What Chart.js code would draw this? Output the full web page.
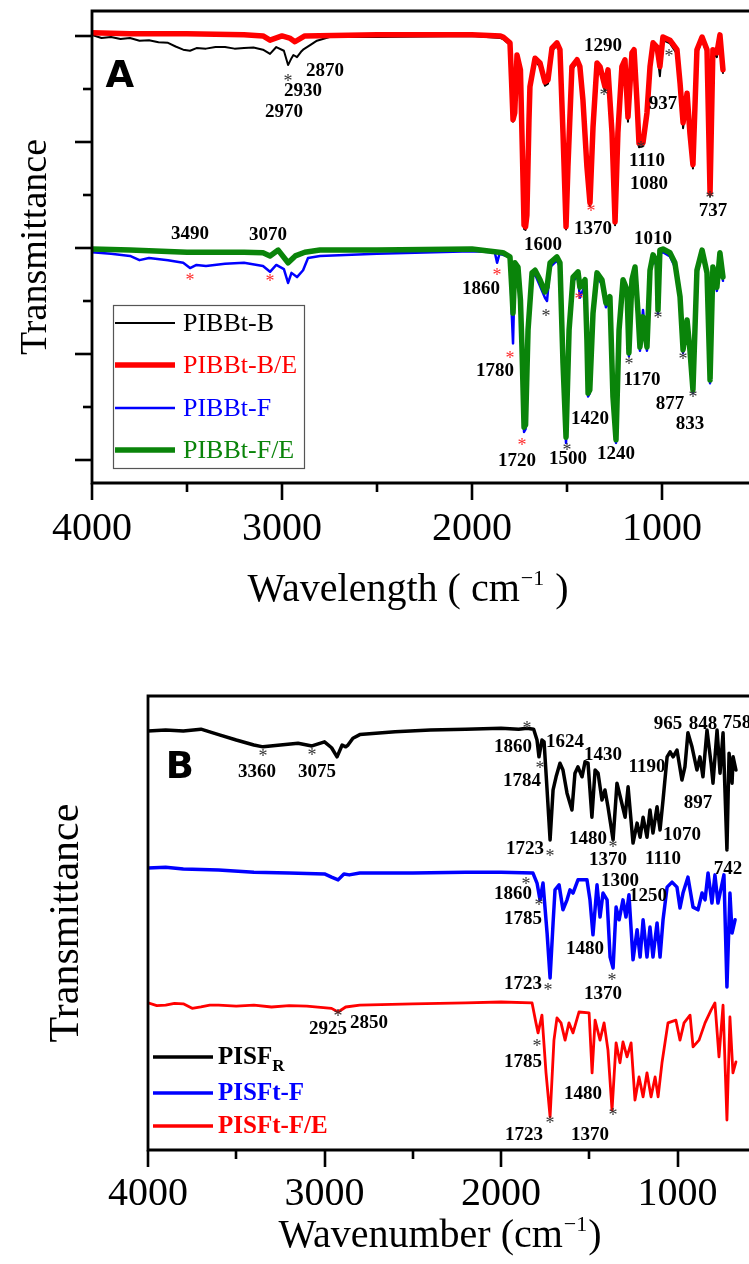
<!DOCTYPE html>
<html><head><meta charset="utf-8">
<script src="https://cdn.jsdelivr.net/npm/chart.js@4.4.1/dist/chart.umd.min.js"></script>
<style>
html,body{margin:0;padding:0;background:#fff;overflow:hidden;width:749px;height:1264px;}
#wa{position:absolute;left:0;top:0;width:749px;height:620px;}
#wb{position:absolute;left:0;top:620px;width:749px;height:644px;}
</style></head><body>
<div id="wa"><canvas id="ca"></canvas></div>
<div id="wb"><canvas id="cb"></canvas></div>
<script>
// ---------------- DATA (wavenumber cm-1, offset transmittance) ----------------
// Panel A
const pibbtB = [[4000,80.2],[3950,79.6],[3900,79.8],[3850,79.4],[3800,79.6],[3750,79.1],[3700,79.2],[3650,78.8],[3600,78.7],[3560,78.0],[3520,77.4],[3484,77.2],[3450,77.7],[3400,77.6],[3350,77.9],[3300,77.9],[3250,77.6],[3200,77.7],[3150,77.8],[3100,77.4],[3063,76.6],[3030,77.9],[2990,77.2],[2968,74.5],[2950,75.8],[2940,76.4],[2921,76.0],[2900,77.0],[2889,77.4],[2850,78.3],[2816,79.1],[2750,79.8],[2500,79.8],[2000,80.0],[1850,79.6],[1837,79.4],[1800,78.3],[1792,71.0],[1784,63.8],[1775,65.0],[1763,75.9],[1745,73.0],[1735,57.5],[1726,43.6],[1718,43.4],[1711,45.6],[1700,63.5],[1695,69.8],[1668,75.2],[1642,74.2],[1616,70.6],[1600,71.0],[1579,77.2],[1553,78.2],[1537,76.9],[1521,61.0],[1505,43.5],[1495,54.6],[1474,73.6],[1447,75.0],[1432,73.6],[1416,67.2],[1395,54.6],[1379,47.9],[1363,62.1],[1342,74.3],[1326,73.6],[1300,69.6],[1284,73.0],[1263,61.0],[1247,44.3],[1232,61.0],[1211,73.6],[1195,74.9],[1179,63.8],[1158,76.2],[1147,76.8],[1132,66.4],[1121,59.0],[1100,59.2],[1079,64.6],[1063,73.2],[1047,78.0],[1026,77.0],[1011,72.4],[995,79.2],[958,78.6],[921,76.6],[905,72.5],[889,62.6],[868,68.3],[853,60.8],[837,55.0],[816,76.6],[789,79.2],[763,76.6],[747,49.8],[732,76.6],[711,76.0],[695,79.6],[679,73.0]];
const pibbtBE = [[4000,80.6],[3800,80.4],[3500,80.4],[3200,80.2],[3100,80.0],[3063,79.2],[3000,80.0],[2960,79.6],[2932,78.9],[2880,80.0],[2500,80.2],[2000,80.2],[1850,80.0],[1837,79.8],[1800,78.7],[1792,71.7],[1784,64.2],[1775,65.5],[1763,76.4],[1745,73.6],[1735,58.5],[1726,44.3],[1718,44.0],[1711,46.2],[1700,64.2],[1695,70.4],[1668,75.8],[1642,74.9],[1616,71.3],[1600,71.7],[1579,77.7],[1553,78.7],[1537,77.4],[1521,61.7],[1505,44.0],[1495,55.3],[1474,74.2],[1447,75.5],[1432,74.2],[1416,67.9],[1395,55.3],[1379,48.5],[1363,62.8],[1342,74.9],[1326,74.2],[1300,70.4],[1284,73.6],[1263,61.7],[1247,44.9],[1232,61.7],[1211,74.2],[1195,75.5],[1179,64.7],[1158,76.8],[1147,77.4],[1132,67.9],[1121,59.8],[1100,59.8],[1079,65.5],[1063,74.2],[1047,78.7],[1026,77.9],[1011,74.2],[995,79.8],[958,79.2],[921,77.4],[905,71.1],[889,63.6],[868,69.2],[853,61.7],[837,55.7],[816,77.4],[789,79.8],[763,77.4],[747,50.4],[732,77.4],[711,76.8],[695,80.2],[679,73.6]];
const pibbtF = [[4000,39.2],[3900,38.9],[3800,38.5],[3750,37.7],[3700,38.1],[3600,37.7],[3520,37.2],[3484,36.2],[3450,36.8],[3400,36.6],[3300,37.0],[3200,37.2],[3100,36.6],[3063,35.5],[3030,36.8],[2990,36.0],[2968,33.4],[2950,35.3],[2921,34.5],[2889,35.8],[2863,38.1],[2800,38.5],[2500,38.9],[2000,39.4],[1880,39.2],[1868,37.2],[1855,38.9],[1800,38.3],[1790,27.0],[1784,22.0],[1774,36.8],[1758,36.0],[1745,29.5],[1737,20.5],[1726,5.3],[1718,5.8],[1705,23.8],[1684,34.5],[1668,35.0],[1642,32.8],[1616,30.6],[1605,30.0],[1589,36.4],[1553,37.6],[1537,36.4],[1521,17.5],[1505,3.2],[1489,23.8],[1468,33.8],[1442,34.6],[1432,30.6],[1405,33.0],[1395,21.8],[1389,12.0],[1380,12.6],[1363,27.0],[1342,34.4],[1316,33.2],[1295,28.8],[1274,30.0],[1258,11.2],[1242,3.2],[1226,23.8],[1205,33.2],[1184,31.4],[1174,19.6],[1158,33.2],[1142,35.6],[1126,27.0],[1116,20.6],[1100,28.3],[1079,20.6],[1063,35.0],[1047,38.0],[1026,36.4],[1021,27.6],[1011,38.9],[995,39.2],[958,38.4],[932,36.4],[905,30.0],[889,20.2],[868,25.8],[853,20.2],[837,12.6],[816,35.0],[789,38.9],[763,34.6],[747,14.5],[732,35.6],[711,31.9],[695,38.4],[679,33.8]];
const pibbtFE = [[4000,39.8],[3800,39.6],[3500,39.2],[3200,39.2],[3100,39.1],[3063,38.5],[3020,39.6],[2968,37.2],[2930,38.5],[2880,39.2],[2800,39.6],[2500,39.6],[2000,39.8],[1837,39.1],[1800,38.3],[1790,32.1],[1784,27.7],[1774,37.2],[1758,36.4],[1745,30.2],[1737,21.3],[1726,6.2],[1718,6.6],[1705,24.5],[1684,35.3],[1668,35.8],[1642,34.0],[1616,31.7],[1605,32.6],[1589,37.2],[1553,38.3],[1537,37.2],[1521,18.3],[1505,4.3],[1489,24.5],[1468,34.5],[1442,35.5],[1432,32.6],[1405,34.0],[1395,22.6],[1389,12.6],[1380,13.2],[1363,27.7],[1342,35.3],[1316,34.0],[1295,29.6],[1274,30.8],[1258,11.9],[1242,3.8],[1226,24.5],[1205,34.0],[1184,32.1],[1174,20.2],[1158,34.0],[1142,36.4],[1126,27.7],[1116,21.3],[1100,27.0],[1079,21.3],[1063,35.8],[1047,38.7],[1026,37.2],[1021,28.3],[1011,39.6],[995,39.8],[958,39.1],[932,37.2],[905,30.8],[889,20.8],[868,26.4],[853,20.8],[837,13.2],[816,35.8],[789,39.6],[763,35.3],[747,15.1],[732,36.4],[711,32.6],[695,39.1],[679,34.5]];

// Panel B
const pisfR = [[4000,92.3],[3900,92.5],[3800,92.3],[3700,92.7],[3600,91.5],[3500,90.3],[3400,89.2],[3348,88.8],[3250,89.2],[3150,89.6],[3071,89.0],[3000,89.9],[2960,88.6],[2929,86.6],[2900,89.2],[2880,88.8],[2867,89.2],[2839,90.7],[2800,91.5],[2600,92.1],[2400,92.5],[2200,92.7],[2000,92.9],[1900,92.7],[1853,92.9],[1815,92.7],[1796,90.3],[1785,86.6],[1768,90.3],[1756,89.9],[1739,79.3],[1722,68.3],[1705,79.3],[1688,82.2],[1666,85.2],[1649,83.7],[1626,78.6],[1598,74.9],[1581,83.0],[1564,84.4],[1541,82.2],[1524,85.5],[1507,85.2],[1485,73.3],[1467,83.7],[1450,83.0],[1428,77.1],[1411,79.3],[1394,75.6],[1365,68.3],[1343,80.8],[1320,77.1],[1297,73.3],[1280,80.0],[1252,67.6],[1229,72.0],[1212,68.9],[1195,73.3],[1173,68.9],[1156,74.9],[1139,69.8],[1116,75.6],[1099,70.5],[1082,77.1],[1059,86.6],[1042,87.7],[1025,86.6],[1003,88.1],[975,81.5],[958,84.4],[941,91.9],[918,88.8],[890,83.7],[873,86.6],[856,82.2],[833,92.5],[810,85.2],[799,80.8],[776,92.5],[759,83.0],[742,91.9],[720,66.1],[708,87.4],[691,80.8],[685,86.6],[669,83.7]];
const pisftF = [[4000,62.1],[3900,62.3],[3800,61.9],[3600,61.7],[3400,61.2],[3200,61.0],[3000,60.8],[2960,60.1],[2923,59.5],[2890,60.8],[2860,60.6],[2800,61.0],[2500,61.0],[2200,61.2],[2000,61.2],[1819,61.0],[1796,58.8],[1779,55.1],[1762,58.8],[1739,47.8],[1722,37.9],[1705,50.0],[1694,57.3],[1671,58.4],[1649,52.9],[1626,55.1],[1609,57.3],[1592,56.6],[1564,59.5],[1513,59.5],[1496,55.1],[1479,47.4],[1456,58.4],[1439,51.3],[1422,56.6],[1399,55.1],[1382,42.5],[1365,40.1],[1348,53.5],[1331,50.7],[1309,55.1],[1292,51.3],[1275,56.2],[1252,41.9],[1229,48.5],[1212,42.5],[1195,50.7],[1173,42.5],[1156,49.1],[1139,42.5],[1116,50.0],[1099,42.5],[1082,50.7],[1059,57.9],[1031,59.0],[1003,57.9],[986,53.3],[969,56.6],[941,60.1],[912,53.5],[884,52.9],[861,56.6],[844,55.1],[827,61.0],[805,54.4],[788,60.6],[771,54.4],[737,60.6],[720,35.9],[703,56.6],[691,47.8],[674,50.7]];
const pisftFE = [[4000,32.4],[3950,31.8],[3900,31.9],[3850,32.3],[3800,32.2],[3750,31.2],[3700,31.5],[3650,31.9],[3600,31.9],[3500,31.7],[3400,31.9],[3300,31.5],[3200,31.8],[3100,31.7],[2960,31.2],[2923,30.4],[2880,31.5],[2800,31.9],[2500,32.2],[2200,32.4],[2000,32.6],[1824,32.4],[1802,28.0],[1790,25.8],[1768,29.7],[1745,17.0],[1722,7.3],[1700,24.2],[1683,29.1],[1660,28.0],[1637,24.2],[1615,28.0],[1592,25.8],[1558,30.4],[1501,30.2],[1484,17.0],[1467,28.6],[1439,24.2],[1416,28.0],[1394,22.0],[1371,8.8],[1348,23.6],[1326,19.2],[1309,23.8],[1286,20.5],[1263,23.6],[1241,11.0],[1218,16.1],[1195,11.7],[1173,17.0],[1150,11.7],[1127,16.1],[1110,11.7],[1088,19.2],[1054,28.0],[1009,28.6],[986,24.2],[963,28.0],[929,29.7],[912,22.7],[878,24.2],[844,28.0],[810,30.8],[788,32.4],[765,20.5],[742,31.9],[720,6.6],[703,29.3],[686,17.0],[669,19.4]];

// Ticks
const xTicks = [4000,3500,3000,2500,2000,1500,1000];
const xMajorTicks = [4000,3000,2000,1000];
const yTicksA = [0,10,20,30,40,50,60,70,80];
const yMajorTicksA = [0,20,40,60,80];

// Peak labels [text, wavenumber, value]
const labelsA = [['2870',2774,73.6],['2930',2889,69.8],['2970',2990,66.0],['3490',3484,43.0],['3070',3074,42.8],['1860',1953,32.6],['1290',1311,78.3],['937',995,67.4],['1110',1079,56.6],['1080',1068,52.3],['1370',1363,43.8],['737',732,47.2],['1600',1626,40.9],['1010',1047,41.9],['1780',1879,17.0],['1720',1763,0.0],['1500',1495,0.4],['1420',1379,8.1],['1240',1242,1.5],['1170',1105,15.4],['877',958,10.9],['833',853,7.0]];
const starsA = [[2968,72.1,'k'],[3484,34.5,'r'],[3063,34.3,'r'],[1868,35.5,'r'],[1305,69.4,'k'],[963,76.8,'k'],[1111,59.4,'k'],[1374,47.5,'r'],[747,50.0,'k'],[1611,27.7,'k'],[1437,30.9,'r'],[1800,19.8,'r'],[1737,3.4,'r'],[1500,2.5,'k'],[1174,18.7,'k'],[1021,27.4,'k'],[889,19.6,'k'],[837,12.5,'k']];
const labelsB = [['3360',3382,83.7],['3075',3042,83.7],['1860',1932,89.2],['1784',1881,81.5],['1624',1637,90.3],['1430',1422,87.4],['1190',1173,84.8],['965',1054,94.1],['848',856,94.1],['758',663,94.3],['897',884,76.7],['1480',1507,68.9],['1070',975,69.8],['1723',1864,66.7],['1370',1394,64.3],['1110',1082,64.5],['742',714,62.3],['1860',1932,56.8],['1785',1875,51.3],['1300',1326,59.5],['1250',1167,56.2],['1480',1524,44.5],['1723',1875,36.8],['1370',1422,34.6],['2925',2980,26.9],['2850',2748,28.2],['1785',1875,19.8],['1480',1535,12.6],['1723',1870,3.7],['1370',1496,3.7]];
const starsB = [[3348,87.4],[3071,87.7],[1853,93.6],[1779,84.8],[1365,67.4],[1722,65.4],[1858,59.3],[1785,54.6],[1734,35.9],[1371,38.1],[2924,30.2],[1796,23.6],[1365,8.4],[1722,6.6]];

const legendA = ['PIBBt-B','PIBBt-B/E','PIBBt-F','PIBBt-F/E'];
const legendB = ['PISF','PISFt-F','PISFt-F/E'];
const xTitleA = ['Wavelength ( cm', '\u22121', ' )'];
const xTitleB = ['Wavenumber (cm', '\u22121', ')'];

// ---------------- DRAWING ----------------
const SERIF = "'Liberation Serif','Times New Roman',serif";
const toXY = a => a.map(p => ({x:p[0], y:p[1]}));
const RED='#ff0000', BLUE='#0000ff', GREEN='#0a840a', BLACK='#000000';

function ds(label, arr, color, width, order){
  return {label, data:toXY(arr), borderColor:color, borderWidth:width, order,
          pointRadius:0, tension:0, borderJoinStyle:'round', borderCapStyle:'round', fill:false};
}

function drawSupTitle(ctx, parts, cx, cy){
  ctx.save();
  ctx.fillStyle='#000'; ctx.textBaseline='middle'; ctx.textAlign='left';
  const big='40px '+SERIF, small='22px '+SERIF;
  ctx.font=big; const w0=ctx.measureText(parts[0]).width, w2=ctx.measureText(parts[2]).width;
  ctx.font=small; const w1=ctx.measureText(parts[1]).width;
  let x = cx - (w0+w1+w2+2)/2;
  ctx.font=big; ctx.fillText(parts[0], x, cy); x += w0+1;
  ctx.font=small; ctx.fillText(parts[1], x, cy-11); x += w1+1;
  ctx.font=big; ctx.fillText(parts[2], x, cy);
  ctx.restore();
}

function decorPlugin(cfg){
  return {
    id:'decor'+cfg.id,
    afterDatasetsDraw(chart){
      const {ctx, scales:{x,y}} = chart;
      ctx.save();
      ctx.textAlign='center';
      ctx.textBaseline='alphabetic';
      ctx.font = 'bold 19px '+SERIF;
      ctx.fillStyle='#000';
      cfg.labels.forEach(([t,w,v])=>{
        ctx.fillText(t, x.getPixelForValue(w), y.getPixelForValue(v)+6.5);
      });
      ctx.font = '18px '+SERIF;
      cfg.stars.forEach(s=>{
        ctx.fillStyle = s[2]==='r' ? '#ff2a2a' : '#333';
        ctx.fillText('*', x.getPixelForValue(s[0]), y.getPixelForValue(s[1])+9);
      });
      ctx.font = 'bold 37px "DejaVu Sans", sans-serif';
      ctx.fillStyle='#000';
      ctx.textBaseline='middle';
      ctx.fillText(cfg.letter[0], x.getPixelForValue(cfg.letter[1]), y.getPixelForValue(cfg.letter[2]));
      ctx.restore();
    },
    afterDraw(chart){
      const {ctx, chartArea:a, scales:{x,y}} = chart;
      ctx.save();
      ctx.strokeStyle='#000';
      ctx.lineWidth=cfg.frameW;
      ctx.beginPath();
      ctx.moveTo(a.left - cfg.frameW/2, a.top); ctx.lineTo(a.right+4, a.top);
      ctx.moveTo(a.left, a.top); ctx.lineTo(a.left, a.bottom);
      ctx.moveTo(a.left - cfg.frameW/2, a.bottom); ctx.lineTo(a.right+4, a.bottom);
      ctx.stroke();
      ctx.lineWidth = 2.6;
      xTicks.forEach(v=>{
        const px = Math.round(x.getPixelForValue(v));
        const len = xMajorTicks.includes(v) ? 17 : 9;
        ctx.beginPath(); ctx.moveTo(px, a.bottom); ctx.lineTo(px, a.bottom+len); ctx.stroke();
      });
      (cfg.yTicks||[]).forEach(v=>{
        const py = Math.round(y.getPixelForValue(v));
        const len = cfg.yMajor.includes(v) ? 17 : 9;
        ctx.beginPath(); ctx.moveTo(a.left, py); ctx.lineTo(a.left-len, py); ctx.stroke();
      });
      cfg.drawLegend(ctx);
      drawSupTitle(ctx, cfg.xTitle, cfg.xTitleX, cfg.xTitleY);
      ctx.restore();
    }
  };
}

function makeChart(id, datasets, cfg){
  return new Chart(document.getElementById(id), {
    type:'line',
    data:{datasets},
    options:{
      responsive:true, maintainAspectRatio:false, animation:false,
      layout:{padding:{top:cfg.padTop,left:0,right:0,bottom:0}},
      plugins:{legend:{display:false}, tooltip:{enabled:false}},
      scales:{
        x:{type:'linear', reverse:true, min:cfg.xMin, max:4000,
           afterFit(s){ s.height = cfg.xH; },
           afterBuildTicks(s){ s.ticks = xTicks.map(v=>({value:v})); },
           grid:{display:false, drawTicks:false}, border:{display:false},
           ticks:{autoSkip:false, maxRotation:0, minRotation:0, padding:cfg.xTickPad, color:'#000',
                  font:{family:SERIF, size:40}, callback:(v)=> xMajorTicks.includes(v) ? String(v) : ''},
           title:{display:false}
        },
        y:{type:'linear', min:cfg.yMin, max:cfg.yMax,
           afterFit(s){ s.width = cfg.yW; },
           grid:{display:false, drawTicks:false}, border:{display:false},
           ticks:{display:false},
           title:{display:true, text:'Transmittance', color:'#000', font:{family:SERIF, size:cfg.yTitleSize},
                  padding:{top:cfg.yTitlePad, bottom:0}}
        }
      }
    },
    plugins:[decorPlugin(cfg)]
  });
}

// Panel A
makeChart('ca', [
  ds('PIBBt-B', pibbtB, BLACK, 2, 3),
  ds('PIBBt-B/E', pibbtBE, RED, 5.5, 2),
  ds('PIBBt-F', pibbtF, BLUE, 2.5, 1),
  ds('PIBBt-F/E', pibbtFE, GREEN, 5.5, 0)
], {
  id:'A', padTop:11, xMin:542, xH:137, xTickPad:22, xTitle:xTitleA, xTitleX:408, xTitleY:590,
  yMin:-4.34, yMax:84.7, yW:92, yTitleSize:38, yTitlePad:13, frameW:2.8,
  yTicks:yTicksA, yMajor:yMajorTicksA,
  labels:labelsA, stars:starsA, letter:['A',3853,72.1],
  drawLegend(ctx){
    ctx.lineWidth=1.2; ctx.strokeStyle='#555';
    ctx.strokeRect(113.5, 305.5, 191, 163);
    const cols=[BLACK,RED,BLUE,GREEN], ws=[2,5.5,2.5,5.5], ys=[323,365,408,450];
    ctx.font='26px '+SERIF; ctx.textAlign='left'; ctx.textBaseline='middle';
    legendA.forEach((t,i)=>{
      ctx.strokeStyle=cols[i]; ctx.lineWidth=ws[i];
      ctx.beginPath(); ctx.moveTo(115, ys[i]); ctx.lineTo(175, ys[i]); ctx.stroke();
      ctx.fillStyle=cols[i]; ctx.fillText(t, 183, ys[i]+1);
    });
  }
});

// Panel B
makeChart('cb', [
  ds('PISF_R', pisfR, BLACK, 3.5, 2),
  ds('PISFt-F', pisftF, BLUE, 3.5, 1),
  ds('PISFt-F/E', pisftFE, RED, 2.8, 0)
], {
  id:'B', padTop:76, xMin:595, xH:114, xTickPad:20, xTitle:xTitleB, xTitleX:440, xTitleY:616,
  yMin:0, yMax:100, yW:148, yTitleSize:42, yTitlePad:42, frameW:2.8,
  yTicks:[], yMajor:[],
  labels:labelsB, stars:starsB.map(s=>[s[0],s[1],'k']), letter:['B',3819,84.1],
  drawLegend(ctx){
    const cols=[BLACK,BLUE,RED], ys=[437,473,506];
    ctx.textAlign='left'; ctx.textBaseline='middle';
    legendB.forEach((t,i)=>{
      ctx.strokeStyle=cols[i]; ctx.lineWidth=3.5;
      ctx.beginPath(); ctx.moveTo(153, ys[i]); ctx.lineTo(213, ys[i]); ctx.stroke();
      ctx.fillStyle=cols[i]; ctx.font='bold 25px '+SERIF; ctx.fillText(t, 218, ys[i]+1);
      if(i===0){
        const w = ctx.measureText(t).width;
        ctx.font='bold 17px '+SERIF; ctx.fillText('R', 218+w, ys[i]+10);
      }
    });
  }
});
</script>
</body></html>
